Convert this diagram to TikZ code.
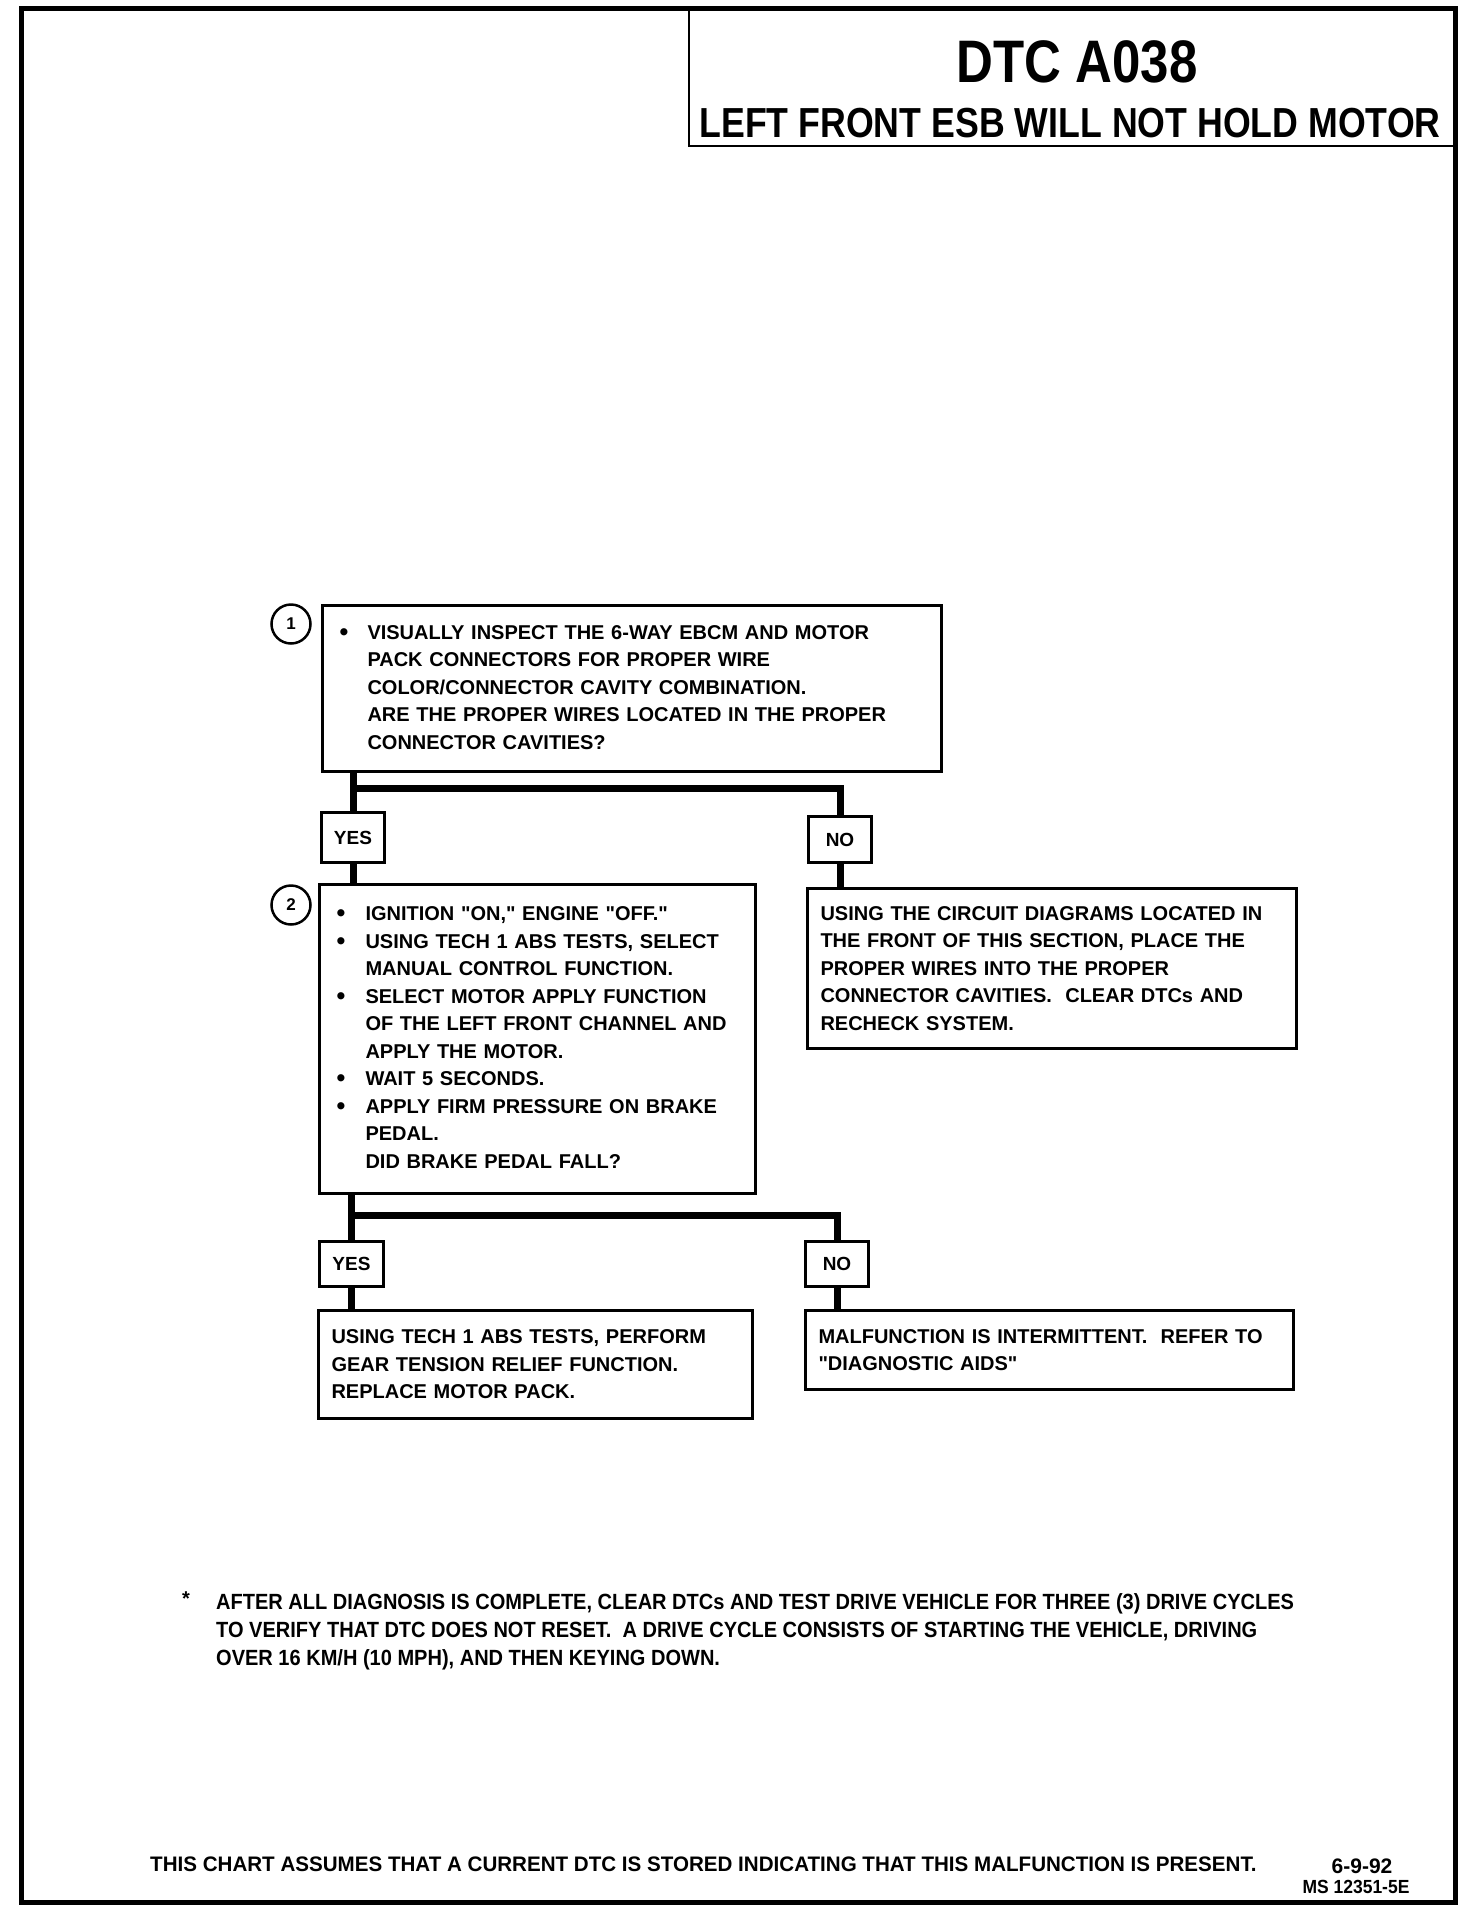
\documentclass[tikz,border=0pt]{standalone}
\usepackage{fontspec}
\setmainfont{Liberation Sans}
\newfontfamily\condfnt[FakeStretch=0.85]{Liberation Sans}
\newfontfamily\notefnt[FakeStretch=0.91]{Liberation Sans}
\newfontfamily\assumefnt[FakeStretch=0.98]{Liberation Sans}
\newfontfamily\msfnt[FakeStretch=0.92]{Liberation Sans}
\newfontfamily\qfnt[Ligatures=TeXOff]{Liberation Sans}
\newcommand\bodyfnt{\fontsize{20}{27.5}\selectfont\bfseries}
\newcommand\dq{{\qfnt\bfseries"}}
\newcommand\bul{\raisebox{-1pt}{\fontsize{25}{20}\selectfont\textbullet}}
\tikzset{
  pageframe/.style={line width=5pt},
  box/.style={draw, line width=3pt, anchor=north west, inner ysep=0pt, align=left, font=\bodyfnt},
  yn/.style={draw, line width=3pt, anchor=north west, inner sep=0pt, font=\fontsize{19}{19}\selectfont\bfseries},
  conn/.style={line width=7pt, line join=miter},
  stepnum/.style={circle, draw, line width=2.5pt, minimum size=39pt, inner sep=0pt, font=\fontsize{17}{17}\selectfont\bfseries},
}
\begin{document}
\begin{tikzpicture}[x=1pt,y=-1pt]
\useasboundingbox (0,0) rectangle (1472,1912);
% page frame
\draw[pageframe] (21,8) rectangle (1455,1902);
% title block
\draw[line width=2.5pt] (689,8) -- (689,146) -- (1455,146);
\node[anchor=base, inner sep=0pt, font=\condfnt\fontsize{60}{60}\selectfont\bfseries] (title) at (1077,82) {DTC A038};
\node[anchor=base, inner sep=0pt, font=\condfnt\fontsize{42}{42}\selectfont\bfseries] (subtitle) at (1070,137) {LEFT FRONT ESB WILL NOT HOLD MOTOR};

% step 1
\node[box, minimum width=619pt, minimum height=166pt, inner xsep=17pt, text width=585pt] (b1) at (321,604) {%
\begin{tabular}{@{}p{28pt}@{}l@{}}
\bul & VISUALLY INSPECT THE 6-WAY EBCM AND MOTOR\\
 & PACK CONNECTORS FOR PROPER WIRE\\
 & COLOR/CONNECTOR CAVITY COMBINATION.\\
 & ARE THE PROPER WIRES LOCATED IN THE PROPER\\
 & CONNECTOR CAVITIES?
\end{tabular}};
\node[stepnum] (c1) at (291,624) {1};

\node[yn, minimum width=63pt, minimum height=50pt] (y1) at (320,811) {YES};
\node[yn, minimum width=63pt, minimum height=46pt] (n1) at (807,815) {NO};

% step 2
\node[box, minimum width=436pt, minimum height=309pt, inner xsep=17pt, text width=402pt] (b2) at (318,883) {%
\begin{tabular}{@{}p{29pt}@{}l@{}}
\bul & IGNITION \dq ON,\dq{} ENGINE \dq OFF.\dq\\
\bul & USING TECH 1 ABS TESTS, SELECT\\
 & MANUAL CONTROL FUNCTION.\\
\bul & SELECT MOTOR APPLY FUNCTION\\
 & OF THE LEFT FRONT CHANNEL AND\\
 & APPLY THE MOTOR.\\
\bul & WAIT 5 SECONDS.\\
\bul & APPLY FIRM PRESSURE ON BRAKE\\
 & PEDAL.\\
 & DID BRAKE PEDAL FALL?
\end{tabular}};
\node[stepnum] (c2) at (291,905) {2};

\node[box, minimum width=489pt, minimum height=160pt, inner xsep=13pt, text width=463pt] (b3) at (806,887) {%
USING THE CIRCUIT DIAGRAMS LOCATED IN\\
THE FRONT OF THIS SECTION, PLACE THE\\
PROPER WIRES INTO THE PROPER\\
CONNECTOR CAVITIES.\ \ CLEAR DTCs AND\\
RECHECK SYSTEM.};

\node[yn, minimum width=64pt, minimum height=45pt] (y2) at (318,1240) {YES};
\node[yn, minimum width=63pt, minimum height=45pt] (n2) at (804,1240) {NO};

\node[box, minimum width=434pt, minimum height=108pt, inner xsep=13pt, text width=408pt] (b4) at (317,1309) {%
USING TECH 1 ABS TESTS, PERFORM\\
GEAR TENSION RELIEF FUNCTION.\\
REPLACE MOTOR PACK.};

\node[box, minimum width=488pt, minimum height=79pt, inner xsep=13pt, text width=462pt] (b5) at (804,1309) {%
MALFUNCTION IS INTERMITTENT.\ \ REFER TO\\
\dq DIAGNOSTIC AIDS\dq};

% connectors
\coordinate (j1) at (351.5,788);
\coordinate (j2) at (350,1215);
\draw[conn] (b1.south -| y1.north) -- (y1.north);
\draw[conn] (j1) -| (n1.north);
\draw[conn] (y1.south) -- (y1.south |- b2.north);
\draw[conn] (n1.south) -- (n1.south |- b3.north);
\draw[conn] (b2.south -| y2.north) -- (y2.north);
\draw[conn] (j2) -| (n2.north);
\draw[conn] (y2.south) -- (y2.south |- b4.north);
\draw[conn] (n2.south) -- (n2.south |- b5.north);

% footnote
\node[anchor=base west, inner sep=0pt, font=\fontsize{20}{20}\selectfont\bfseries] (star) at (182,1605) {*};
\node[anchor=north west, inner sep=0pt, align=left, font=\notefnt\fontsize{22}{28}\selectfont\bfseries] (note) at (216,1593) {%
AFTER ALL DIAGNOSIS IS COMPLETE, CLEAR DTCs AND TEST DRIVE VEHICLE FOR THREE (3) DRIVE CYCLES\\
TO VERIFY THAT DTC DOES NOT RESET.\ \ A DRIVE CYCLE CONSISTS OF STARTING THE VEHICLE, DRIVING\\
OVER 16 KM/H (10 MPH), AND THEN KEYING DOWN.};

% bottom line
\node[anchor=base west, inner sep=0pt, font=\assumefnt\fontsize{21}{21}\selectfont\bfseries] (assume) at (150,1871) {THIS CHART ASSUMES THAT A CURRENT DTC IS STORED INDICATING THAT THIS MALFUNCTION IS PRESENT.};
\node[anchor=base, inner sep=0pt, font=\fontsize{21}{21}\selectfont\bfseries] (date) at (1362,1873) {6-9-92};
\node[anchor=base, inner sep=0pt, font=\msfnt\fontsize{19}{19}\selectfont\bfseries] (msnum) at (1356,1893) {MS 12351-5E};
\end{tikzpicture}
\end{document}
